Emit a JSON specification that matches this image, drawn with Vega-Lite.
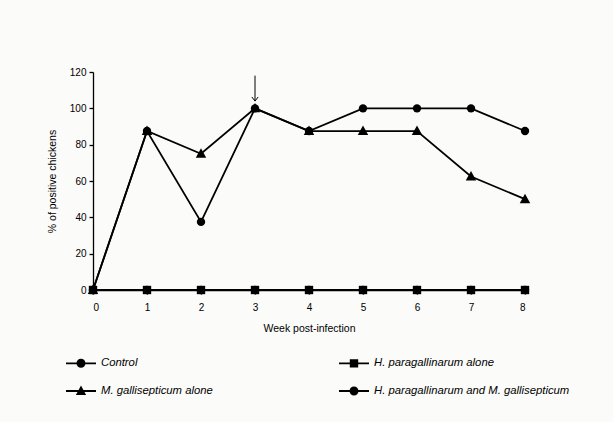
{
  "$schema": "https://vega.github.io/schema/vega-lite/v6.json",
  "width": 432,
  "height": 218,
  "autosize": {"type": "none"},
  "padding": {"left": 93, "top": 72, "right": 88, "bottom": 132},
  "background": "#fbfbf9",
  "config": {
    "view": {"stroke": null},
    "font": "Liberation Sans",
    "axis": {"domainColor": "black", "tickColor": "black", "labelColor": "black", "titleColor": "black", "grid": false, "labelFontSize": 10, "titleFontSize": 10.5, "titleFontWeight": "normal", "domainWidth": 1.3, "tickWidth": 1.3, "tickSize": 4}
  },
  "datasets": {
    "main": [
      {"week": 0, "series": "Control", "value": 0},
      {"week": 1, "series": "Control", "value": 0},
      {"week": 2, "series": "Control", "value": 0},
      {"week": 3, "series": "Control", "value": 0},
      {"week": 4, "series": "Control", "value": 0},
      {"week": 5, "series": "Control", "value": 0},
      {"week": 6, "series": "Control", "value": 0},
      {"week": 7, "series": "Control", "value": 0},
      {"week": 8, "series": "Control", "value": 0},
      {"week": 0, "series": "H. paragallinarum alone", "value": 0},
      {"week": 1, "series": "H. paragallinarum alone", "value": 0},
      {"week": 2, "series": "H. paragallinarum alone", "value": 0},
      {"week": 3, "series": "H. paragallinarum alone", "value": 0},
      {"week": 4, "series": "H. paragallinarum alone", "value": 0},
      {"week": 5, "series": "H. paragallinarum alone", "value": 0},
      {"week": 6, "series": "H. paragallinarum alone", "value": 0},
      {"week": 7, "series": "H. paragallinarum alone", "value": 0},
      {"week": 8, "series": "H. paragallinarum alone", "value": 0},
      {"week": 0, "series": "M. gallisepticum alone", "value": 0},
      {"week": 1, "series": "M. gallisepticum alone", "value": 87.5},
      {"week": 2, "series": "M. gallisepticum alone", "value": 75},
      {"week": 3, "series": "M. gallisepticum alone", "value": 100},
      {"week": 4, "series": "M. gallisepticum alone", "value": 87.5},
      {"week": 5, "series": "M. gallisepticum alone", "value": 87.5},
      {"week": 6, "series": "M. gallisepticum alone", "value": 87.5},
      {"week": 7, "series": "M. gallisepticum alone", "value": 62.5},
      {"week": 8, "series": "M. gallisepticum alone", "value": 50},
      {"week": 0, "series": "H. paragallinarum and M. gallisepticum", "value": 0},
      {"week": 1, "series": "H. paragallinarum and M. gallisepticum", "value": 87.5},
      {"week": 2, "series": "H. paragallinarum and M. gallisepticum", "value": 37.5},
      {"week": 3, "series": "H. paragallinarum and M. gallisepticum", "value": 100},
      {"week": 4, "series": "H. paragallinarum and M. gallisepticum", "value": 87.5},
      {"week": 5, "series": "H. paragallinarum and M. gallisepticum", "value": 100},
      {"week": 6, "series": "H. paragallinarum and M. gallisepticum", "value": 100},
      {"week": 7, "series": "H. paragallinarum and M. gallisepticum", "value": 100},
      {"week": 8, "series": "H. paragallinarum and M. gallisepticum", "value": 87.5}
    ],
    "arrow": [
      {"week": 3, "y1": 104, "y2": 118}
    ]
  },
  "encoding": {
    "x": {"field": "week", "type": "quantitative", "scale": {"domain": [0, 8], "nice": false}, "axis": {"values": [0,1,2,3,4,5,6,7,8], "title": "Week post-infection", "titlePadding": 11, "labelPadding": 8}},
    "y": {"field": "value", "type": "quantitative", "scale": {"domain": [0, 120], "nice": false}, "axis": {"values": [0,20,40,60,80,100,120], "title": "% of positive chickens", "titlePadding": 12, "labelPadding": 3}}
  },
  "layer": [
    {
      "data": {"name": "main"},
      "mark": {"type": "line", "color": "black", "strokeWidth": 1.8},
      "encoding": {"detail": {"field": "series"}}
    },
    {
      "data": {"name": "main"},
      "mark": {"type": "point", "filled": true, "color": "black", "size": 70, "opacity": 1},
      "encoding": {
        "shape": {"field": "series", "type": "nominal", "sort": null,
          "scale": {"domain": ["Control", "H. paragallinarum alone", "M. gallisepticum alone", "H. paragallinarum and M. gallisepticum"], "range": ["circle", "square", "M0,-1.3L1.25,0.95H-1.25Z", "circle"]},
          "legend": null}
      }
    },
    {
      "data": {"name": "main"},
      "transform": [{"filter": "datum.week < 0"}],
      "mark": {"type": "point", "filled": true, "color": "black"},
      "encoding": {
        "shape": {"field": "series", "type": "nominal",
          "scale": {"domain": ["Control", "H. paragallinarum alone", "M. gallisepticum alone", "H. paragallinarum and M. gallisepticum"],
            "range": [
              "M-1,-0.06H1V0.06H-1ZM-0.3,0A0.3,0.3 0 1,1 0.3,0A0.3,0.3 0 1,1 -0.3,0Z",
              "M-1,-0.06H1V0.06H-1ZM-0.28,-0.28H0.28V0.28H-0.28Z",
              "M-1,-0.06H1V0.06H-1ZM0,-0.36L0.34,0.26H-0.34Z",
              "M-1,-0.06H1V0.06H-1ZM-0.3,0A0.3,0.3 0 1,1 0.3,0A0.3,0.3 0 1,1 -0.3,0Z"
            ]},
          "legend": {"title": null, "orient": "none", "direction": "horizontal", "legendX": -27, "legendY": 276, "columns": 2, "columnPadding": 126, "rowPadding": 7, "symbolSize": 900, "symbolStrokeWidth": 0, "symbolFillColor": "black", "symbolOpacity": 1, "labelFontSize": 11.3, "labelFontStyle": "italic", "labelColor": "black", "labelOffset": 5, "labelLimit": 300,
            "encode": {"symbols": {"update": {"size": {"value": 900}, "strokeWidth": {"value": 0}, "fill": {"value": "black"}, "opacity": {"value": 1}}}}}
        }
      }
    },
    {
      "data": {"name": "arrow"},
      "mark": {"type": "rule", "color": "black", "strokeWidth": 1},
      "encoding": {"y": {"field": "y1", "type": "quantitative"}, "y2": {"field": "y2"}}
    },
    {
      "data": {"name": "arrow"},
      "mark": {"type": "point", "filled": false, "color": "black", "strokeWidth": 1, "size": 40, "opacity": 1, "shape": "M-1,-1.3L0,0L1,-1.3"},
      "encoding": {"y": {"field": "y1", "type": "quantitative"}}
    }
  ],
  "resolve": {"scale": {"shape": "independent"}, "legend": {"shape": "independent"}}
}
